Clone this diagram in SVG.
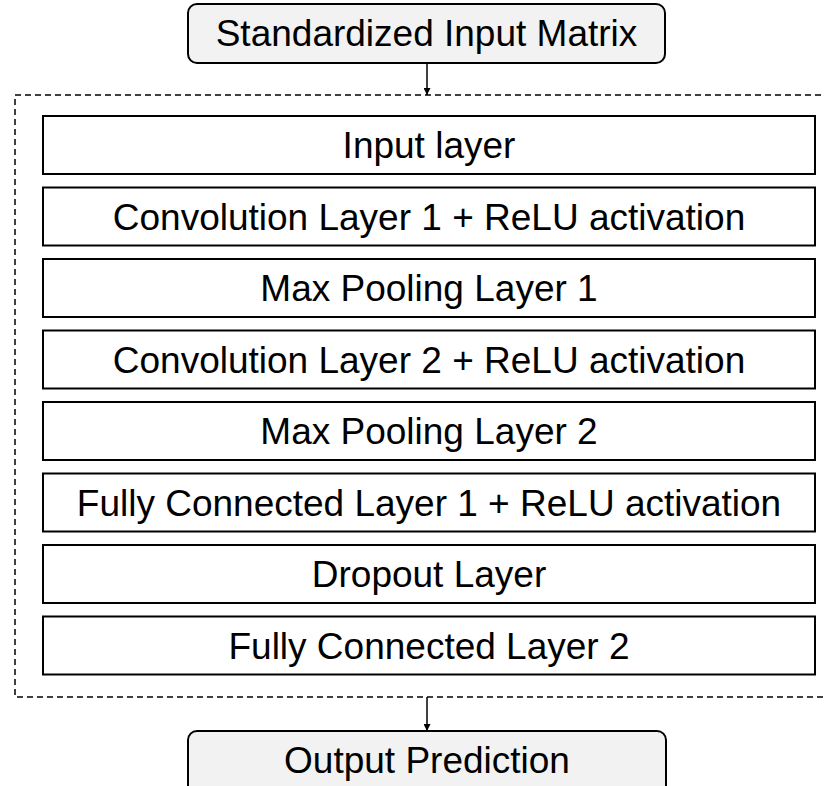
<svg xmlns="http://www.w3.org/2000/svg" width="824" height="786" viewBox="0 0 824 786">
  <style>
    .term { fill: #f2f2f2; stroke: #000; stroke-width: 2; }
    .layer { fill: #fff; stroke: #000; stroke-width: 2; }
    .frame { fill: none; stroke: #000; stroke-width: 1.5; stroke-dasharray: 6 4; }
    .label { font-family: "Liberation Sans", Arial, sans-serif; font-size: 37px; fill: #000; text-anchor: middle; }
    .link { stroke: #000; stroke-width: 1.5; fill: none; marker-end: url(#head); }
  </style>
  <defs>
    <marker id="head" viewBox="0 0 10 10" refX="10" refY="5" markerWidth="10" markerHeight="7" markerUnits="userSpaceOnUse" orient="auto">
      <path d="M0,0 L10,5 L0,10 Z" fill="#000"/>
    </marker>
  </defs>
  <rect width="824" height="786" fill="#fff"/>

  <!-- model frame -->
  <rect class="frame" x="15" y="95" width="828" height="602"/>

  <g id="connectors">
    <line class="link" x1="427" y1="63" x2="427" y2="95"/>
    <line class="link" x1="427" y1="697" x2="427" y2="731"/>
  </g>

  <g id="input-matrix">
    <rect class="term" x="188" y="4" width="477" height="59" rx="9"/>
    <text class="label" x="426.5" y="46">Standardized Input Matrix</text>
  </g>

  <g id="input-layer">
    <rect class="layer" x="43" y="116" width="772" height="58"/>
    <text class="label" x="429" y="158">Input layer</text>
  </g>
  <g id="conv1">
    <rect class="layer" x="43" y="187.5" width="772" height="58"/>
    <text class="label" x="429" y="229.5">Convolution Layer 1 + ReLU activation</text>
  </g>
  <g id="pool1">
    <rect class="layer" x="43" y="259" width="772" height="58"/>
    <text class="label" x="429" y="301">Max Pooling Layer 1</text>
  </g>
  <g id="conv2">
    <rect class="layer" x="43" y="330.5" width="772" height="58"/>
    <text class="label" x="429" y="372.5">Convolution Layer 2 + ReLU activation</text>
  </g>
  <g id="pool2">
    <rect class="layer" x="43" y="402" width="772" height="58"/>
    <text class="label" x="429" y="444">Max Pooling Layer 2</text>
  </g>
  <g id="fc1">
    <rect class="layer" x="43" y="473.5" width="772" height="58"/>
    <text class="label" x="429" y="515.5">Fully Connected Layer 1 + ReLU activation</text>
  </g>
  <g id="dropout">
    <rect class="layer" x="43" y="545" width="772" height="58"/>
    <text class="label" x="429" y="587">Dropout Layer</text>
  </g>
  <g id="fc2">
    <rect class="layer" x="43" y="616.5" width="772" height="58"/>
    <text class="label" x="429" y="658.5">Fully Connected Layer 2</text>
  </g>

  <g id="output-prediction">
    <rect class="term" x="188" y="731" width="478" height="70" rx="9"/>
    <text class="label" x="427" y="773">Output Prediction</text>
  </g>
</svg>
